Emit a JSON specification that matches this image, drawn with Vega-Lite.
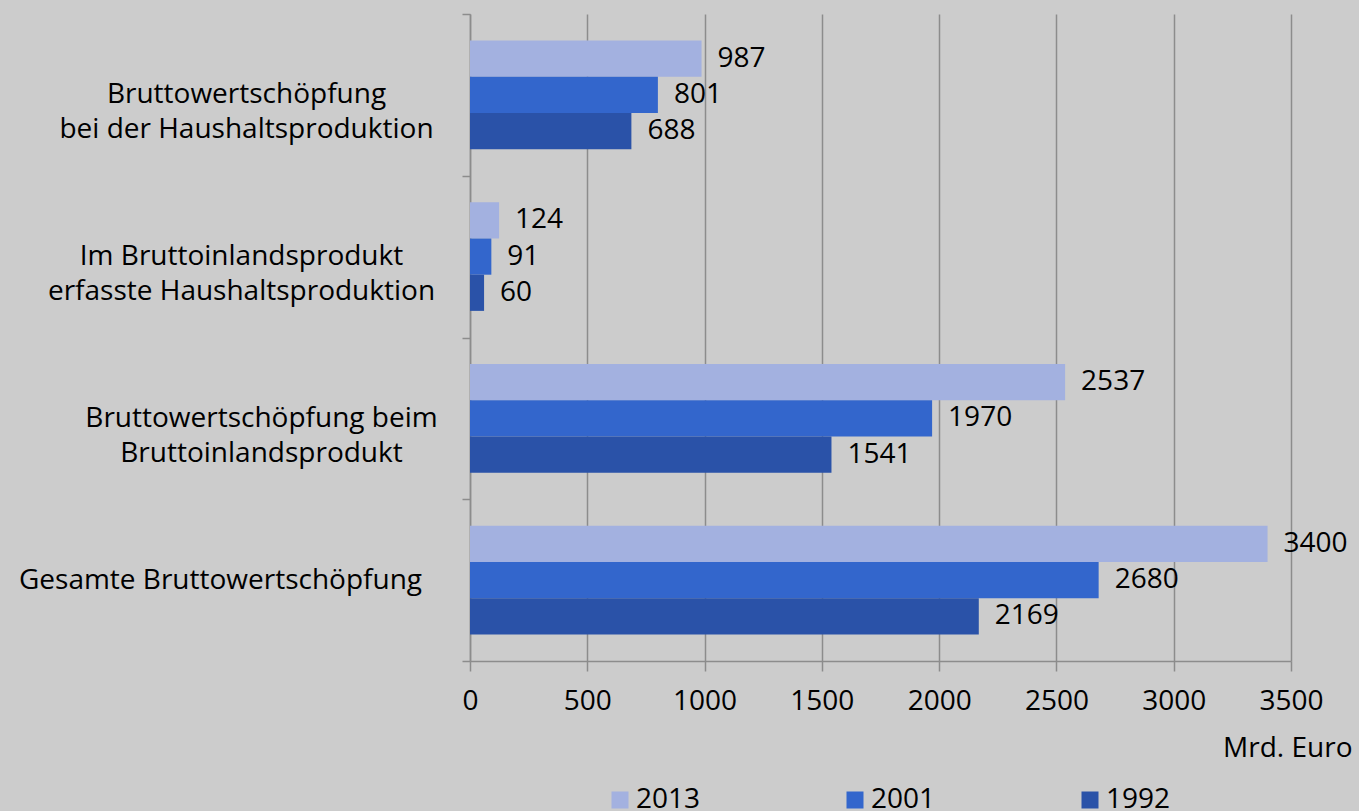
{
  "$schema": "https://vega.github.io/schema/vega-lite/v6.json",
  "width": 821,
  "height": 647,
  "autosize": "none",
  "padding": {"left": 470, "top": 14, "right": 68, "bottom": 150},
  "background": "#cccccc",
  "config": {"view": {"stroke": null}, "font": "Open Sans"},
  "data": {
    "values": [
      {"kategorie": "Bruttowertschöpfung|bei der Haushaltsproduktion", "jahr": "2013", "wert": 987},
      {"kategorie": "Bruttowertschöpfung|bei der Haushaltsproduktion", "jahr": "2001", "wert": 801},
      {"kategorie": "Bruttowertschöpfung|bei der Haushaltsproduktion", "jahr": "1992", "wert": 688},
      {"kategorie": "Im Bruttoinlandsprodukt|erfasste Haushaltsproduktion", "jahr": "2013", "wert": 124},
      {"kategorie": "Im Bruttoinlandsprodukt|erfasste Haushaltsproduktion", "jahr": "2001", "wert": 91},
      {"kategorie": "Im Bruttoinlandsprodukt|erfasste Haushaltsproduktion", "jahr": "1992", "wert": 60},
      {"kategorie": "Bruttowertschöpfung beim|Bruttoinlandsprodukt", "jahr": "2013", "wert": 2537},
      {"kategorie": "Bruttowertschöpfung beim|Bruttoinlandsprodukt", "jahr": "2001", "wert": 1970},
      {"kategorie": "Bruttowertschöpfung beim|Bruttoinlandsprodukt", "jahr": "1992", "wert": 1541},
      {"kategorie": "Gesamte Bruttowertschöpfung", "jahr": "2013", "wert": 3400},
      {"kategorie": "Gesamte Bruttowertschöpfung", "jahr": "2001", "wert": 2680},
      {"kategorie": "Gesamte Bruttowertschöpfung", "jahr": "1992", "wert": 2169}
    ]
  },
  "encoding": {
    "y": {
      "field": "kategorie",
      "type": "nominal",
      "sort": [
        "Bruttowertschöpfung|bei der Haushaltsproduktion",
        "Im Bruttoinlandsprodukt|erfasste Haushaltsproduktion",
        "Bruttowertschöpfung beim|Bruttoinlandsprodukt",
        "Gesamte Bruttowertschöpfung"
      ],
      "scale": {"paddingInner": 0, "paddingOuter": 0},
      "axis": {
        "title": null,
        "domain": true,
        "domainColor": "#8c8c8c",
        "domainWidth": 1.5,
        "ticks": true,
        "tickBand": "extent",
        "tickSize": 8,
        "tickColor": "#8c8c8c",
        "tickWidth": 1.5,
        "grid": false,
        "labelExpr": "split(datum.label, '|')",
        "labelFontSize": 28,
        "labelLineHeight": 35,
        "labelColor": "#000000",
        "labelAlign": "center",
        "labelBaseline": "middle",
        "labelLimit": 0,
        "labelPadding": {
          "condition": [
            {"test": "datum.value === 'Bruttowertschöpfung|bei der Haushaltsproduktion'", "value": 216},
            {"test": "datum.value === 'Im Bruttoinlandsprodukt|erfasste Haushaltsproduktion'", "value": 221},
            {"test": "datum.value === 'Bruttowertschöpfung beim|Bruttoinlandsprodukt'", "value": 201}
          ],
          "value": 242
        }
      }
    },
    "yOffset": {
      "field": "jahr",
      "type": "nominal",
      "sort": ["2013", "2001", "1992"],
      "scale": {"paddingInner": 0, "paddingOuter": 0.736}
    },
    "x": {
      "field": "wert",
      "type": "quantitative",
      "scale": {"domain": [0, 3500], "nice": false},
      "axis": {
        "values": [0, 500, 1000, 1500, 2000, 2500, 3000, 3500],
        "format": "d",
        "labelFlush": false,
        "grid": true,
        "gridColor": "#8c8c8c",
        "gridWidth": 1.5,
        "domainColor": "#8c8c8c",
        "domainWidth": 1.5,
        "tickColor": "#8c8c8c",
        "tickWidth": 1.5,
        "tickSize": 10,
        "labelFontSize": 28,
        "labelColor": "#000000",
        "labelPadding": 16,
        "title": "Mrd. Euro",
        "titleFontSize": 28,
        "titleFontWeight": "normal",
        "titleColor": "#000000",
        "titleAlign": "right",
        "titleBaseline": "middle",
        "titleX": 882,
        "titleY": 87
      }
    }
  },
  "layer": [
    {
      "mark": {"type": "bar"},
      "encoding": {
        "color": {
          "field": "jahr",
          "type": "nominal",
          "scale": {"domain": ["2013", "2001", "1992"], "range": ["#a3b1e0", "#3366cc", "#2a52a8"]},
          "legend": {
            "title": null,
            "orient": "none",
            "legendX": 136,
            "legendY": 772,
            "direction": "horizontal",
            "columns": 3,
            "columnPadding": 140,
            "padding": 0,
            "symbolType": "square",
            "symbolSize": 289,
            "symbolStrokeWidth": 0,
            "symbolOpacity": 1,
            "labelFontSize": 28,
            "labelColor": "#000000",
            "labelOffset": 2
          }
        }
      }
    },
    {
      "mark": {"type": "text", "align": "left", "baseline": "middle", "dx": 16, "fontSize": 28, "color": "#000000"},
      "encoding": {"text": {"field": "wert", "type": "quantitative", "format": "d"}}
    }
  ]
}
